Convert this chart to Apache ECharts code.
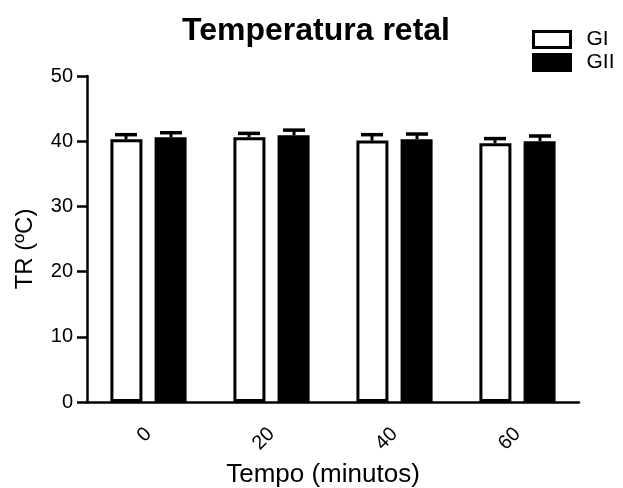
<!DOCTYPE html>
<html>
<head>
<meta charset="utf-8">
<script src="https://cdn.jsdelivr.net/npm/echarts@6/dist/echarts.min.js"></script>
<style>
  html, body { margin: 0; padding: 0; background: #fff; }
  #main { width: 623px; height: 488px; }
</style>
</head>
<body>
<div id="main"></div>
<script>
// 数据
var categories = ['0', '20', '40', '60'];
var giMean = [40.3, 40.6, 40.1, 39.7];
var giErr = [0.7, 0.6, 0.9, 0.7];
var giiMean = [40.6, 40.9, 40.3, 40.0];
var giiErr = [0.7, 0.8, 0.8, 0.8];

var myChart = echarts.init(document.getElementById('main'));

// 误差线 (只画上方)
function errorSeries(name, means, errs, offset) {
    return {
        name: name,
        type: 'custom',
        z: 3,
        renderItem: function (params, api) {
            var i = api.value(0);
            var top = api.coord([i, api.value(1) + api.value(2)]);
            var base = api.coord([i, api.value(1)]);
            var x = top[0] + offset;
            return {
                type: 'group',
                children: [
                    { type: 'line', shape: { x1: x, y1: base[1], x2: x, y2: top[1] }, style: { stroke: '#000', lineWidth: 3 } },
                    { type: 'line', shape: { x1: x - 11, y1: top[1], x2: x + 11, y2: top[1] }, style: { stroke: '#000', lineWidth: 3.5 } }
                ]
            };
        },
        data: means.map(function (m, i) { return [i, m, errs[i]]; })
    };
}

var option = {
    animation: false,
    textStyle: { fontFamily: 'Liberation Sans', color: '#000' },
    title: {
        text: 'Temperatura retal',
        left: 311,
        textAlign: 'center',
        top: 10,
        textStyle: { fontSize: 32, fontWeight: 'bold', color: '#000', fontFamily: 'Liberation Sans' }
    },
    legend: {
        orient: 'vertical',
        left: 527,
        top: 24,
        itemWidth: 37,
        itemHeight: 16,
        itemGap: 2,
        textStyle: { fontSize: 21, color: '#000', padding: [0, 0, 0, 11] },
        data: [
            { name: 'GI', icon: 'rect', itemStyle: { color: '#fff', borderColor: '#000', borderWidth: 3 } },
            { name: 'GII', icon: 'rect', itemStyle: { color: '#000', borderColor: '#000', borderWidth: 3 } }
        ]
    },
    grid: { left: 87, right: 44, top: 76, bottom: 86, outerBoundsMode: 'none' },
    xAxis: {
        type: 'category',
        data: categories,
        name: 'Tempo (minutos)',
        nameLocation: 'middle',
        nameGap: 60,
        nameTextStyle: { fontSize: 26, color: '#000', padding: [0, 20, 0, 0] },
        axisLine: { lineStyle: { color: '#000', width: 2.5 } },
        axisTick: { alignWithLabel: true, length: 10, lineStyle: { color: '#000', width: 2.5 } },
        axisLabel: { rotate: 45, fontSize: 20, color: '#000', margin: 29 }
    },
    yAxis: {
        type: 'value',
        min: 0,
        max: 50,
        interval: 10,
        name: 'TR (ºC)',
        nameLocation: 'middle',
        nameGap: 50,
        nameTextStyle: { fontSize: 24, color: '#000', padding: [0, 20, 0, 0] },
        splitLine: { show: false },
        axisLine: { show: true, lineStyle: { color: '#000', width: 2.5 } },
        axisTick: { show: true, length: 10, lineStyle: { color: '#000', width: 2.5 } },
        axisLabel: { fontSize: 20, color: '#000', margin: 14 }
    },
    series: [
        {
            name: 'GI',
            type: 'bar',
            barWidth: 32,
            barGap: '38%',
            itemStyle: { color: '#fff', borderColor: '#000', borderWidth: 3 },
            data: giMean
        },
        {
            name: 'GII',
            type: 'bar',
            barWidth: 32,
            itemStyle: { color: '#000', borderColor: '#000', borderWidth: 3 },
            data: giiMean
        },
        errorSeries('GI', giMean, giErr, -22.5),
        errorSeries('GII', giiMean, giiErr, 22.5)
    ]
};

myChart.setOption(option);

window.onresize = function () {
    myChart.resize();
};
</script>
</body>
</html>
